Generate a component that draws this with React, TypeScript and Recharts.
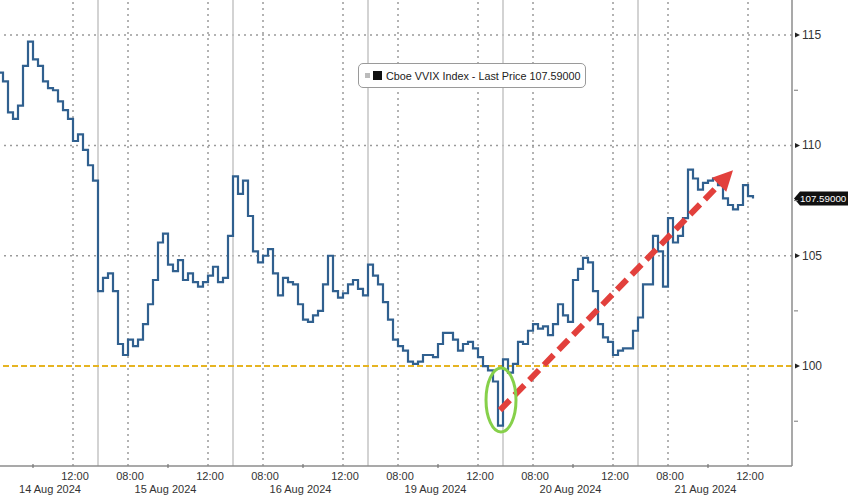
import React from "react";
import {
  LineChart,
  Line,
  XAxis,
  YAxis,
  ReferenceLine,
  ReferenceDot,
} from "recharts";

// trading days shown on the axis
const days = ["14 Aug 2024", "15 Aug 2024", "16 Aug 2024", "19 Aug 2024", "20 Aug 2024", "21 Aug 2024"];

// 15-minute prices per session, session opens 06:30
const firstSlot = [7, 0, 0, 0, 0, 0];
const aug14 = [113.3, 112.9, 111.5, 111.2, 111.8, 113.6, 114.7, 113.9, 113.6, 112.9, 112.6, 112.5, 112.0, 111.6, 111.2, 110.2, 110.5, 109.8, 109.1, 108.4, 107.6];
const aug15 = [103.4, 104.0, 104.2, 103.4, 101.0, 100.5, 101.2, 100.9, 101.2, 101.9, 102.8, 103.9, 105.6, 106.0, 104.6, 104.3, 104.8, 103.9, 104.2, 103.8, 103.6, 103.8, 104.1, 104.5, 103.8, 104.0, 105.9];
const aug16 = [108.6, 107.8, 108.4, 106.8, 105.2, 104.7, 105.0, 105.3, 104.2, 103.2, 104.0, 103.8, 103.7, 102.8, 102.1, 102.0, 102.3, 102.5, 103.7, 105.0, 103.4, 103.1, 103.3, 103.7, 103.9, 103.5, 103.2];
const aug19 = [104.6, 104.1, 103.7, 102.9, 102.1, 101.2, 100.9, 100.7, 100.2, 100.1, 100.2, 100.5, 100.5, 100.4, 101.0, 101.5, 101.5, 101.2, 100.7, 101.0, 101.1, 100.8, 100.4, 100.0, 99.8, 99.3, 97.3];
const aug20 = [100.3, 99.7, 100.1, 101.1, 101.0, 101.6, 101.9, 101.7, 101.8, 101.4, 101.9, 102.8, 102.3, 102.0, 103.9, 104.4, 104.9, 104.7, 103.4, 101.9, 101.3, 101.1, 100.5, 100.7, 100.8, 100.8, 101.6];
const aug21 = [102.2, 103.7, 103.7, 105.9, 105.2, 103.6, 106.7, 105.6, 105.9, 106.7, 108.9, 108.5, 108.0, 108.3, 108.4, 108.5, 108.2, 107.6, 107.3, 107.1, 107.3, 108.2, 107.7, 107.59];
const sessions = [aug14, aug15, aug16, aug19, aug20, aug21];

const lastPrice = 107.59;
const yTicks = [97.5, 100, 102.5, 105, 107.5, 110, 112.5, 115];
const gridValues = [105, 110, 115];
const refLevel = 100;

// arrow and circle drawn on the original picture
const arrowFrom = { x: 26.85, y: 98.0 };
const arrowTo = { x: 38.5, y: 108.87 };
const circleAt = { x: 26.9, y: 98.46 };

const SESSION = 6.75; // hours per session on the axis
const OPEN = 6.5;
const xMin = 1.85;
const xMax = 41.45;

const data = sessions.flatMap((prices, d) =>
  prices.map((price, i) => ({ x: d * SESSION + (firstSlot[d] + i) * 0.25, price }))
);

const majorTicks = days
  .flatMap((_, d) => [d * SESSION + (8 - OPEN), d * SESSION + (12 - OPEN)])
  .filter((t) => t >= xMin);
const minorTicks = days.map((_, d) => d * SESSION + (10 - OPEN)).filter((t) => t >= xMin);
const separators = days.slice(1).map((_, i) => (i + 1) * SESSION);
const dayCenters = days.map((_, d) => Math.max(d * SESSION + SESSION / 2, xMin + 2.5));

const font = "'Liberation Sans', Arial, sans-serif";
const textColor = "#333";

const hourLabel = (v: number) => {
  const h = Math.round(((v % SESSION) + OPEN) * 4) / 4;
  return `${String(Math.floor(h)).padStart(2, "0")}:00`;
};

const TimeTick = (props: any) => {
  const { x, y, payload } = props;
  const h = ((payload.value % SESSION) + OPEN);
  if (Math.abs(h - 10) < 0.01) {
    return <line x1={x} x2={x} y1={y} y2={y - 4} stroke="#777" strokeWidth={1.2} />;
  }
  return (
    <text x={x + 2} y={y + 12} textAnchor="middle" fontSize={11} fontFamily={font} fill={textColor}>
      {hourLabel(payload.value)}
    </text>
  );
};

const DateTick = (props: any) => {
  const { x, y, payload } = props;
  const d = Math.floor(payload.value / SESSION);
  return (
    <text x={x} y={y + 10} textAnchor="middle" fontSize={11} fontFamily={font} fill={textColor}>
      {days[d]}
    </text>
  );
};

const PriceTick = (props: any) => {
  const { x, y, payload } = props;
  const major = payload.value % 5 === 0;
  if (!major) {
    return <line x1={x} x2={x + 4} y1={y} y2={y} stroke="#777" strokeWidth={1} />;
  }
  return (
    <g>
      <polygon points={`${x + 1},${y - 2.5} ${x + 6},${y} ${x + 1},${y + 2.5}`} fill="#222" />
      <text x={x + 8} y={y + 4} fontSize={12} fontFamily={font} fill={textColor}>
        {payload.value}
      </text>
    </g>
  );
};

const PriceTag = (props: any) => {
  const { cx, cy } = props;
  return (
    <g>
      <path
        d={`M ${cx + 2} ${cy} L ${cx + 8} ${cy - 7} H 848 V ${cy + 7} H ${cx + 8} Z`}
        fill="#111"
      />
      <text x={cx + 8} y={cy + 3.5} fontSize={9.8} fontFamily={font} fill="#fff">
        {lastPrice.toFixed(5)}
      </text>
    </g>
  );
};

const Circle = (props: any) => {
  const { cx, cy } = props;
  return <ellipse cx={cx} cy={cy} rx={15} ry={32} fill="none" stroke="#86d04a" strokeWidth={3} />;
};

const Arrow = (props: any) => {
  const { x1, y1, x2, y2 } = props;
  const ang = Math.atan2(y2 - y1, x2 - x1);
  const len = 20;
  const bx = x2 - len * Math.cos(ang);
  const by = y2 - len * Math.sin(ang);
  const px = Math.sin(ang) * 10;
  const py = -Math.cos(ang) * 10;
  return (
    <g>
      <line x1={x1} y1={y1} x2={bx} y2={by} stroke="#e2403c" strokeWidth={6} strokeDasharray="14 7" />
      <polygon points={`${x2},${y2} ${bx + px},${by + py} ${bx - px},${by - py}`} fill="#e2403c" />
    </g>
  );
};

export default function App() {
  return (
    <div style={{ position: "relative", width: 848, height: 495, background: "#fff" }}>
      <style>{"body{margin:0;background:#fff}"}</style>
      <LineChart width={848} height={495} data={data} margin={{ top: 0, right: 0, bottom: 0, left: 0 }}>
        <XAxis
          dataKey="x"
          type="number"
          domain={[xMin, xMax]}
          allowDataOverflow
          ticks={[...majorTicks, ...minorTicks].sort((a, b) => a - b)}
          interval={0}
          tick={<TimeTick />}
          tickLine={false}
          tickSize={0}
          height={15}
          axisLine={{ stroke: "#8c8c8c", strokeWidth: 1.5 }}
        />
        <XAxis
          xAxisId="date"
          dataKey="x"
          type="number"
          domain={[xMin, xMax]}
          allowDataOverflow
          ticks={dayCenters}
          interval={0}
          tick={<DateTick />}
          tickLine={false}
          tickSize={0}
          axisLine={false}
          height={14}
        />
        <YAxis
          orientation="right"
          type="number"
          domain={[95.47, 116.59]}
          allowDataOverflow
          ticks={yTicks}
          interval={0}
          tick={<PriceTick />}
          tickLine={false}
          tickSize={0}
          width={56}
          axisLine={{ stroke: "#8c8c8c", strokeWidth: 1.5 }}
        />
        {gridValues.map((v) => (
          <ReferenceLine key={`h${v}`} y={v} stroke="#9a9a9a" strokeDasharray="2 4" strokeWidth={1.5} />
        ))}
        {majorTicks.map((t) => (
          <ReferenceLine key={`v${t}`} x={t} stroke="#9a9a9a" strokeDasharray="2 4" strokeWidth={1.5} />
        ))}
        {separators.map((t) => (
          <ReferenceLine key={`s${t}`} x={t} stroke="#c4c4c4" strokeWidth={1.5} />
        ))}
        <ReferenceLine y={refLevel} stroke="#e6b422" strokeWidth={2} strokeDasharray="6 3" />
        <Line
          dataKey="price"
          type="stepAfter"
          stroke="#30608f"
          strokeWidth={2.2}
          dot={false}
          isAnimationActive={false}
        />
        <ReferenceDot x={circleAt.x} y={circleAt.y} r={1} shape={<Circle />} />
        <ReferenceLine
          segment={[arrowFrom, arrowTo]}
          stroke="#e2403c"
          shape={<Arrow />}
        />
        <ReferenceDot x={xMax} y={lastPrice} r={1} shape={<PriceTag />} />
      </LineChart>
      <div
        style={{
          position: "absolute",
          left: 358,
          top: 63,
          width: 226,
          height: 23,
          border: "1.5px solid #9a9a9a",
          borderRadius: 5,
          background: "#fff",
          display: "flex",
          alignItems: "center",
          fontFamily: font,
          fontSize: 10.8,
          color: "#222",
          whiteSpace: "nowrap",
        }}
      >
        <span style={{ width: 5, height: 5, background: "#bbb", marginLeft: 6, marginRight: 3 }} />
        <span style={{ width: 9, height: 9, background: "#111", marginRight: 4 }} />
        <span>Cboe VVIX Index - Last Price 107.59000</span>
      </div>
    </div>
  );
}
